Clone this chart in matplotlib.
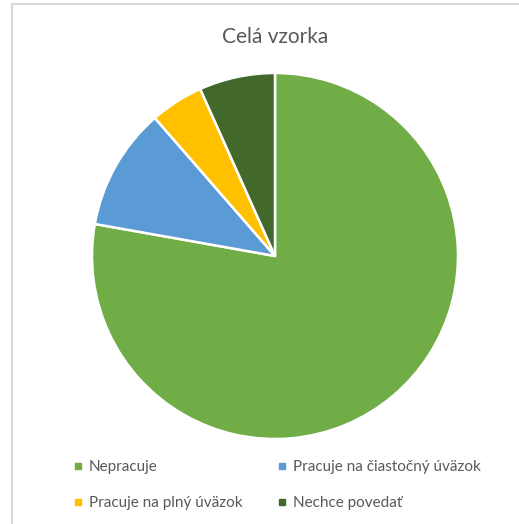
import matplotlib
matplotlib.use("Agg")
import matplotlib.pyplot as plt
from matplotlib.lines import Line2D

categories = ["Nepracuje", "Pracuje na čiastočný úväzok", "Pracuje na plný úväzok", "Nechce povedať"]
values = [77.8, 10.8, 4.7, 6.7]
colors = ["#70AD47", "#5B9BD5", "#FFC000", "#43682B"]
title = "Celá vzorka"

plt.rcParams['font.family'] = ['Lato', 'DejaVu Sans']

W, H = 519, 524
fig = plt.figure(figsize=(W / 100, H / 100), dpi=100)
fig.patch.set_facecolor("white")

# frame lines (top and left)
fig.add_artist(Line2D([12 / W, 1], [1 - 4 / H, 1 - 4 / H], color="#D9D9D9", lw=1.5))
fig.add_artist(Line2D([12 / W, 12 / W], [0, 1 - 4 / H], color="#D9D9D9", lw=1.5))

cx, cy, r = 275, 256, 183
ax = fig.add_axes([(cx - r) / W, (H - cy - r) / H, 2 * r / W, 2 * r / H])
wedges, _ = ax.pie(values, colors=colors, startangle=90, counterclock=False,
                   radius=1, wedgeprops=dict(edgecolor="white", linewidth=1.8))
ax.set_xlim(-1, 1)
ax.set_ylim(-1, 1)
ax.set_aspect("equal")
ax.axis("off")

fig.text(275 / W, 1 - 37 / H, title, ha="center", va="center", fontsize=15, color="#595959")

handles = [Line2D([], [], marker="s", linestyle="none", markersize=5, color=c) for c in colors]
order = [0, 2, 1, 3]
leg = fig.legend([handles[i] for i in order], [categories[i] for i in order],
                 ncol=2, loc="center left", bbox_to_anchor=(60 / W, 1 - 485 / H),
                 frameon=False, fontsize=11, labelcolor="#595959",
                 handlelength=0.6, handletextpad=0.4, columnspacing=2.3,
                 labelspacing=1.45)

fig.savefig("out.png", dpi=100, facecolor="white")
